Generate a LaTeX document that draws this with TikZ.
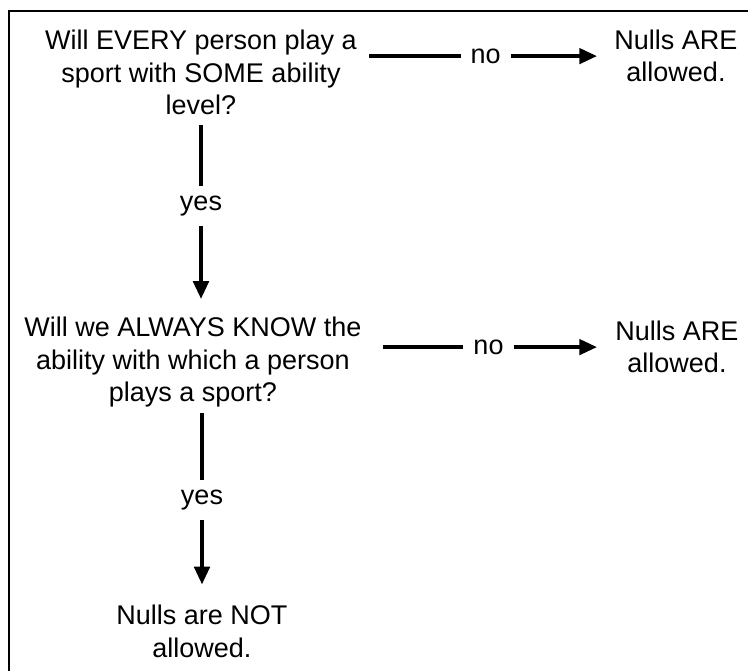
\documentclass[tikz,border=0pt]{standalone}
\usepackage{fontspec}
\setmainfont{Liberation Sans}
\usetikzlibrary{arrows.meta}
\begin{document}
\begin{tikzpicture}[x=1pt,y=-1pt,
  txt/.style={align=center, inner sep=0pt, anchor=base,
    font=\fontsize{27}{32.5}\selectfont},
  conn/.style={line width=4.5pt, -{Triangle[length=18pt,width=15pt]}},
  lbl/.style={fill=white, inner sep=10pt, font=\fontsize{27}{32.5}\selectfont}]
% page area and the frame that runs off its right and bottom edges
\path[use as bounding box, clip] (0,0) rectangle (748,671);
\draw[line width=2pt] (9,11) rectangle (780,700);

% questions and outcomes (placed by the baseline of their last line)
\node[txt] (q1) at (201,115) {Will EVERY person play a\\sport with SOME ability\\level?};
\node[txt] (r1) at (676,82) {Nulls ARE\\allowed.};
\node[txt] (q2) at (193,402) {Will we ALWAYS KNOW the\\ability with which a person\\plays a sport?};
\node[txt] (r2) at (677,373) {Nulls ARE\\allowed.};
\node[txt] (n3) at (202,657) {Nulls are NOT\\allowed.};

% answers
\draw[conn, shorten <=12pt, shorten >=17pt, yshift=-2pt]
  (q1.east |- r1.west) -- node[lbl]{no} (r1.west);
\draw[conn, shorten <=21pt, shorten >=18pt, yshift=-2pt]
  (q2.east |- r2.west) -- node[lbl]{no} (r2.west);
\draw[conn, shorten <=10pt, shorten >=18pt]
  (q1.south) -- node[lbl, pos=0.45]{yes} (q1.south |- q2.north);
\draw[conn, shorten <=5pt, shorten >=20pt]
  (q2.south -| n3.north) -- node[lbl, pos=0.47]{yes} (n3.north);
\end{tikzpicture}
\end{document}
